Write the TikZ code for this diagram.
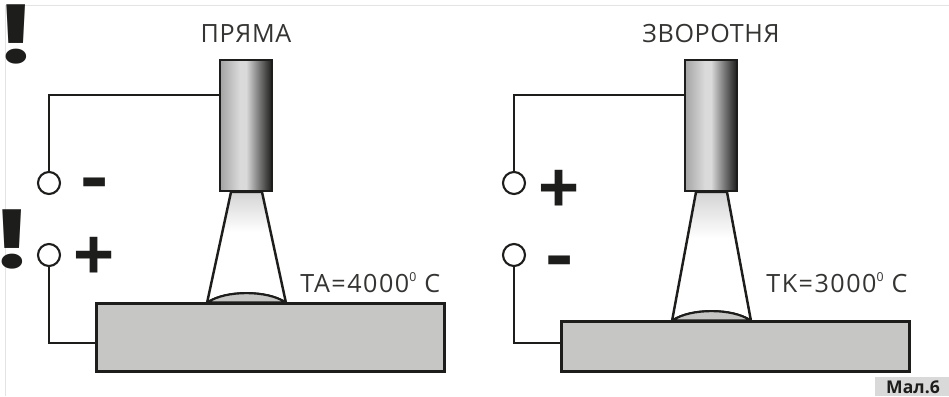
\documentclass[tikz,border=0pt]{standalone}
\usepackage{graphicx}
\usepackage{fontspec}
\setmainfont{Open Sans}
\newfontfamily\signfont{Liberation Sans}[BoldFont={Liberation Sans Bold}]
\newfontfamily\warnfont{Poppins}
\usepackage{tikz}
\usetikzlibrary{calc}

\definecolor{Ink}{HTML}{1D1D1B}
\definecolor{PlateGray}{HTML}{C6C6C5}
\definecolor{FrameGray}{HTML}{E3E3E3}
\definecolor{TagGray}{HTML}{D9D9D9}
\definecolor{ToothA}{HTML}{A4A4A4}
\definecolor{ToothB}{HTML}{DADADA}
\definecolor{ToothC}{HTML}{8C8C8C}
\definecolor{ToothD}{HTML}{2B2B2A}
\definecolor{ConeTop}{HTML}{D4D4D4}

\pgfdeclarehorizontalshading{torchshade}{100bp}{color(0bp)=(ToothA); color(25bp)=(ToothA); color(44bp)=(ToothB); color(50bp)=(ToothB); color(60bp)=(ToothC); color(73bp)=(ToothD); color(100bp)=(ToothD)}
\pgfdeclareverticalshading{coneshade}{100bp}{color(0bp)=(white); color(57bp)=(white); color(75bp)=(ConeTop); color(100bp)=(ConeTop)}

\tikzset{
	torch/.style={draw=Ink, line width=1.5pt, shading=torchshade, minimum width=1.04cm, minimum height=2.62cm, inner sep=0pt},
	plate/.style={draw=Ink, line width=1.3pt, fill=PlateGray, minimum width=6.96cm, inner sep=0pt},
	terminal/.style={circle, draw=Ink, line width=1.2pt, fill=white, minimum size=0.44cm, inner sep=0pt},
	wire/.style={draw=Ink, line width=1.2pt},
	cone/.style={draw=Ink, line width=1.4pt, shading=coneshade},
	pool/.style={draw=Ink, line width=1.2pt, fill=PlateGray},
	label/.style={text=Ink!90, font=\fontsize{14.3}{16}\selectfont\addfontfeature{LetterSpace=2.5}, inner sep=0pt},
	temp/.style={label, anchor=base west, font=\fontsize{14.3}{16}\selectfont\addfontfeature{LetterSpace=6}},
	plussign/.style={text=Ink, inner sep=0pt, anchor=base, font=\signfont\bfseries\fontsize{40}{40}\selectfont},
	minussign/.style={text=Ink, inner sep=0pt, anchor=base, font=\signfont\bfseries\fontsize{42}{42}\selectfont},
	warnmark/.style={text=Ink, inner sep=0pt, anchor=base, font=\warnfont\bfseries\fontsize{46}{46}\selectfont}
}
\newcommand{\supnum}[1]{\raisebox{6.2pt}{\fontsize{7}{7}\selectfont #1}}
\newcommand{\warnsign}{\smash{\makebox[0.3em]{\scalebox{1.25}[1]{!}}}}

\begin{document}
\begin{tikzpicture}[x=0.02cm, y=-0.02cm]
	\useasboundingbox (0,0) rectangle (949,396);

	\draw[FrameGray, line width=0.9pt] (949,5.5) -- (5.5,5.5) -- (5.5,396);
	\node[fill=TagGray, minimum width=1.48cm, minimum height=0.38cm, inner sep=0pt] (Tag) at (912,386.5) {};
	\node[inner sep=0pt, anchor=base, font=\bfseries\fontsize{10}{12}\selectfont, text=Ink] (TagText) at (913,393) {Мал.6};

	\node[warnmark] (MarkA) at (16,63) {\warnsign};
	\node[warnmark] (MarkB) at (12,268) {\warnsign};

	% left
	\node[label, anchor=base] (TitleA) at (246,42) {ПРЯМА};
	\filldraw[cone] (231,192) -- (207,303) .. controls (225,290) and (268,290) .. (286,303) -- (262,192) -- cycle;
	\node[plate, minimum height=1.36cm] (PlateA) at (270.5,337.5) {};
	\filldraw[pool] (207.5,302.5) .. controls (225,290) and (268,290) .. (285.5,302.5) -- cycle;
	\node[torch] (TorchA) at (246,125.5) {};
	\node[terminal] (TermA) at (49,183) {};
	\node[terminal] (TermB) at (49,255) {};
	\coordinate (WireA) at (49,95);
	\coordinate (WireB) at (49,343);
	\draw[wire] (TermA) -- (WireA) -- (WireA -| TorchA.west);
	\draw[wire] (TermB) -- (WireB) -- (WireB -| PlateA.west);
	\node[minussign] (SignA) at (94.5,201) {\scalebox{1.15}[1]{-}};
	\node[plussign] (SignB) at (94,278) {+};
	\node[temp] (TempA) at (300,292) {TA=4000\supnum{0} C};

	% right
	\node[label, anchor=base] (TitleB) at (711,42) {ЗВОРОТНЯ};
	\filldraw[cone] (696,192) -- (672,321) .. controls (690,308) and (733,308) .. (751,321) -- (727,192) -- cycle;
	\node[plate, minimum height=1cm] (PlateB) at (735.5,346.5) {};
	\filldraw[pool] (672.5,320.5) .. controls (690,308) and (733,308) .. (750.5,320.5) -- cycle;
	\node[torch] (TorchB) at (711,125.5) {};
	\node[terminal] (TermC) at (514,183) {};
	\node[terminal] (TermD) at (514,255) {};
	\coordinate (WireC) at (514,95);
	\coordinate (WireD) at (514,343);
	\draw[wire] (TermC) -- (WireC) -- (WireC -| TorchB.west);
	\draw[wire] (TermD) -- (WireD) -- (WireD -| PlateB.west);
	\node[plussign] (SignC) at (559,211) {+};
	\node[minussign] (SignD) at (559.5,279) {\scalebox{1.15}[1]{-}};
	\node[temp] (TempB) at (766,292) {TK=3000\supnum{0} C};
\end{tikzpicture}
\end{document}
